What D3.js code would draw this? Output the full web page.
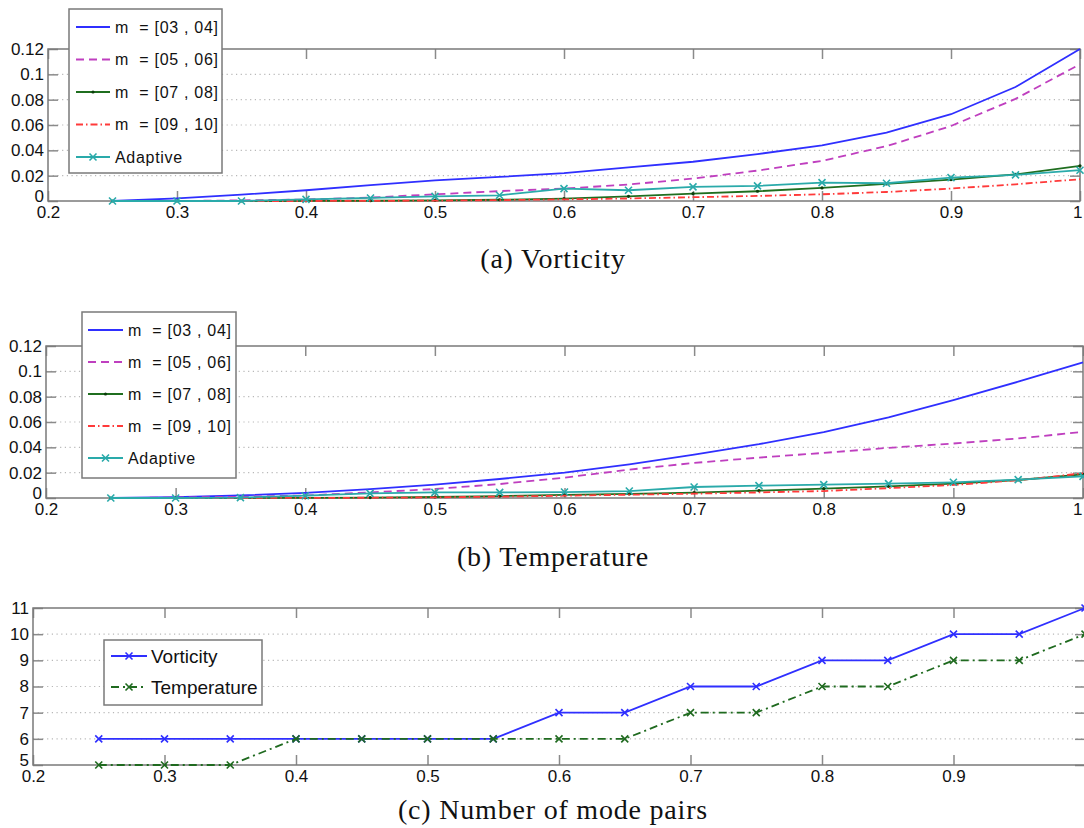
<!DOCTYPE html>
<html>
<head>
<meta charset="utf-8">
<script src="https://cdn.jsdelivr.net/npm/d3@7"></script>
<style>
  body { margin: 0; background: #fff; }
  text { font-family: "Liberation Sans", Arial, sans-serif; }
  .title { font-family: "Liberation Serif", "DejaVu Serif", serif; }
</style>
</head>
<body>
<svg id="chart" width="1084" height="828"></svg>
<script>
// x positions (fraction) shared by all series
var xs = [0.25, 0.3, 0.35, 0.4, 0.45, 0.5, 0.55, 0.6, 0.65, 0.7, 0.75, 0.8, 0.85, 0.9, 0.95, 1.0];

// (a) Vorticity
var vortM0304 = [0, 0.002, 0.005, 0.0085, 0.0125, 0.0163, 0.019, 0.022, 0.0265, 0.031, 0.037, 0.044, 0.054, 0.0685, 0.09, 0.12];
var vortM0506 = [0, 0, 0.0005, 0.0012, 0.0027, 0.0053, 0.0078, 0.0098, 0.013, 0.0177, 0.024, 0.0317, 0.0433, 0.0592, 0.0806, 0.108];
var vortM0708 = [0, 0, 0, 0.0001, 0.0002, 0.0005, 0.001, 0.0019, 0.0037, 0.0058, 0.0077, 0.0103, 0.0135, 0.0169, 0.021, 0.0278];
var vortM0910 = [0, 0, 0, 0, 0.0001, 0.0003, 0.0007, 0.0013, 0.002, 0.003, 0.004, 0.0053, 0.0071, 0.0098, 0.0132, 0.0172];
var vortAdapt = [0, 0, 0, 0.0013, 0.0024, 0.0037, 0.0045, 0.0098, 0.0085, 0.0111, 0.0119, 0.0145, 0.014, 0.0185, 0.0206, 0.0243];

// (b) Temperature
var tempM0304 = [0, 0.0006, 0.002, 0.004, 0.007, 0.0105, 0.015, 0.020, 0.0266, 0.0343, 0.0425, 0.052, 0.0636, 0.0773, 0.0918, 0.107];
var tempM0506 = [0, 0.0003, 0.001, 0.002, 0.0044, 0.0071, 0.011, 0.0161, 0.0224, 0.0277, 0.0319, 0.0356, 0.0396, 0.043, 0.047, 0.0522];
var tempM0708 = [0, 0, 0, 0.0001, 0.0003, 0.0008, 0.0015, 0.0024, 0.0032, 0.0042, 0.0058, 0.0074, 0.0092, 0.0113, 0.0142, 0.0187];
var tempM0910 = [0, 0, 0, 0.0001, 0.0002, 0.0005, 0.0011, 0.0018, 0.0026, 0.0034, 0.0044, 0.0055, 0.0078, 0.0103, 0.014, 0.0195];
var tempAdapt = [0, 0, 0.0003, 0.0018, 0.0036, 0.0044, 0.0044, 0.0047, 0.0055, 0.0087, 0.0098, 0.0106, 0.0113, 0.0124, 0.0145, 0.0171];

// (c) Number of mode pairs
var modesVort = [6, 6, 6, 6, 6, 6, 6, 7, 7, 8, 8, 9, 9, 10, 10, 11];
var modesTemp = [5, 5, 5, 6, 6, 6, 6, 6, 6, 7, 7, 8, 8, 9, 9, 10];

// ticks and labels
var xTicks = [0.2, 0.3, 0.4, 0.5, 0.6, 0.7, 0.8, 0.9, 1.0];
var xTicksModes = [0.2, 0.3, 0.4, 0.5, 0.6, 0.7, 0.8, 0.9];
var errTicks = [0, 0.02, 0.04, 0.06, 0.08, 0.1, 0.12];
var modeTicks = [5, 6, 7, 8, 9, 10, 11];
var mLabels = ["m  = [03 , 04]", "m  = [05 , 06]", "m  = [07 , 08]", "m  = [09 , 10]", "Adaptive"];
var modeLabels = ["Vorticity", "Temperature"];
var titles = ["(a) Vorticity", "(b) Temperature", "(c) Number of mode pairs"];

var svg = d3.select('#chart');
var W = 1084;

var styles = [
    {color: '#2f2fff', dash: null, marker: null},
    {color: '#bf3fbf', dash: '8,5', marker: null},
    {color: '#1f6e1f', dash: null, marker: 'dot'},
    {color: '#ff3a3a', dash: '7,3,1.5,3', marker: null},
    {color: '#2aaaaa', dash: null, marker: 'x'}
];
var modeStyles = [
    {color: '#2f2fff', dash: null, marker: 'x'},
    {color: '#1f6a1f', dash: '8,4,2,4', marker: 'x'}
];

function fmt(d) {
    return String(+d.toFixed(2));
}

function drawMarker(g, kind, x, y, color) {
    if (kind == 'x') {
        var s = 3.5;
        g.append('path')
            .attr('d', 'M' + (x - s) + ',' + (y - s) + 'L' + (x + s) + ',' + (y + s) +
                       'M' + (x - s) + ',' + (y + s) + 'L' + (x + s) + ',' + (y - s))
            .attr('stroke', color).attr('stroke-width', 1.6).attr('fill', 'none');
    } else if (kind == 'dot') {
        g.append('circle').attr('cx', x).attr('cy', y).attr('r', 1.6).attr('fill', '#0b3d0b');
    }
}

function drawPanel(p) {
    var x = d3.scaleLinear().domain([0.2, 1.0]).range([p.left, p.right]);
    var y = d3.scaleLinear().domain(p.yDomain).range([p.bottom, p.top]);
    var g = svg.append('g');

    // dotted horizontal grid
    g.selectAll('line.grid')
        .data(p.yTicks.slice(1, -1))
        .enter().append('line')
        .attr('x1', p.left).attr('x2', p.right)
        .attr('y1', function (d) { return y(d); })
        .attr('y2', function (d) { return y(d); })
        .attr('stroke', '#b8b8b8')
        .attr('stroke-width', 1.2)
        .attr('stroke-dasharray', '1.2,3.5');

    // axes, ticks pointing inward
    var bottom = g.append('g').attr('transform', 'translate(0,' + p.bottom + ')')
        .call(d3.axisBottom(x).tickValues(p.xTicks).tickSize(-10).tickPadding(5).tickFormat(fmt));
    var left = g.append('g').attr('transform', 'translate(' + p.left + ',0)')
        .call(d3.axisLeft(y).tickValues(p.yTicks).tickSize(-10).tickPadding(4).tickFormat(p.fmt));
    var top = g.append('g').attr('transform', 'translate(0,' + p.top + ')')
        .call(d3.axisTop(x).tickValues(p.xTicks).tickSize(-10).tickFormat(''));
    var right = g.append('g').attr('transform', 'translate(' + p.right + ',0)')
        .call(d3.axisRight(y).tickValues(p.yTicks).tickSize(-10).tickFormat(''));
    [bottom, left, top, right].forEach(function (a) {
        a.select('.domain').remove();
        a.selectAll('.tick line').attr('stroke', '#8a8a8a').attr('stroke-width', 1.5);
        a.selectAll('.tick text').attr('fill', '#111').style('font-size', '17px')
            .style('font-family', '"Liberation Sans", Arial, sans-serif');
    });
    // lowest y label sits a little above the axis line, as in the original
    left.selectAll('.tick text').filter(function (d) { return d == p.yDomain[0]; })
        .attr('dy', '0em');
    // keep the "1" at the right edge inside the picture
    bottom.selectAll('.tick text').filter(function (d) { return d == 1; })
        .attr('text-anchor', 'end').attr('x', Math.min(4, W - 2 - x(1)));

    // frame
    g.append('rect')
        .attr('x', p.left).attr('y', p.top)
        .attr('width', p.right - p.left).attr('height', p.bottom - p.top)
        .attr('fill', 'none').attr('stroke', '#7a7a7a').attr('stroke-width', 1.5);

    var line = d3.line()
        .x(function (d, i) { return x(xs[i]); })
        .y(function (d) { return y(d); });

    p.series.forEach(function (s, k) {
        var st = p.styles[k];
        g.append('path')
            .datum(s)
            .attr('d', line)
            .attr('fill', 'none')
            .attr('stroke', st.color)
            .attr('stroke-width', 1.8)
            .attr('stroke-dasharray', st.dash);
        if (st.marker) {
            s.forEach(function (v, i) {
                drawMarker(g, st.marker, x(xs[i]), y(v), st.color);
            });
        }
    });

    // legend
    var L = p.legend;
    var lg = svg.append('g');
    lg.append('rect')
        .attr('x', L.x).attr('y', L.y).attr('width', L.w).attr('height', L.h)
        .attr('fill', '#fff').attr('stroke', '#7a7a7a').attr('stroke-width', 1.5);
    p.labels.forEach(function (lab, k) {
        var st = p.styles[k];
        var ly = L.y + L.first + k * L.step;
        lg.append('line')
            .attr('x1', L.x + L.s0).attr('x2', L.x + L.s1)
            .attr('y1', ly).attr('y2', ly)
            .attr('stroke', st.color).attr('stroke-width', 1.8)
            .attr('stroke-dasharray', st.dash);
        if (st.marker) drawMarker(lg, st.marker, L.x + (L.s0 + L.s1) / 2, ly, st.color);
        lg.append('text')
            .attr('x', L.x + L.tx).attr('y', ly)
            .attr('dy', '0.35em')
            .style('font-size', L.fs + 'px')
            .style('letter-spacing', L.ls + 'px')
            .style('white-space', 'pre')
            .attr('fill', '#111')
            .text(lab);
    });

    svg.append('text')
        .attr('class', 'title')
        .attr('x', 553).attr('y', p.titleY)
        .attr('text-anchor', 'middle')
        .style('font-size', '28px')
        .style('letter-spacing', '0.8px')
        .attr('fill', '#111')
        .text(p.title);
}

drawPanel({
    left: 48, right: 1080, top: 49, bottom: 201,
    xTicks: xTicks, yDomain: [0, 0.12], yTicks: errTicks, fmt: fmt,
    series: [vortM0304, vortM0506, vortM0708, vortM0910, vortAdapt],
    styles: styles, labels: mLabels,
    legend: {x: 69, y: 9, w: 153, h: 164, first: 18, step: 32.5, s0: 7, s1: 41, tx: 46, fs: 16, ls: 0.7},
    title: titles[0], titleY: 268
});

drawPanel({
    left: 46, right: 1083, top: 346, bottom: 498,
    xTicks: xTicks, yDomain: [0, 0.12], yTicks: errTicks, fmt: fmt,
    series: [tempM0304, tempM0506, tempM0708, tempM0910, tempAdapt],
    styles: styles, labels: mLabels,
    legend: {x: 82, y: 312, w: 154, h: 166, first: 18, step: 32, s0: 6, s1: 41, tx: 46, fs: 16, ls: 0.7},
    title: titles[1], titleY: 566
});

drawPanel({
    left: 33, right: 1085, top: 608, bottom: 765,
    xTicks: xTicksModes, yDomain: [5, 11], yTicks: modeTicks, fmt: function (d) { return d; },
    series: [modesVort, modesTemp],
    styles: modeStyles, labels: modeLabels,
    legend: {x: 104, y: 640, w: 158, h: 65, first: 16, step: 31, s0: 7, s1: 43, tx: 47, fs: 19, ls: 0},
    title: titles[2], titleY: 819
});
</script>
</body>
</html>
